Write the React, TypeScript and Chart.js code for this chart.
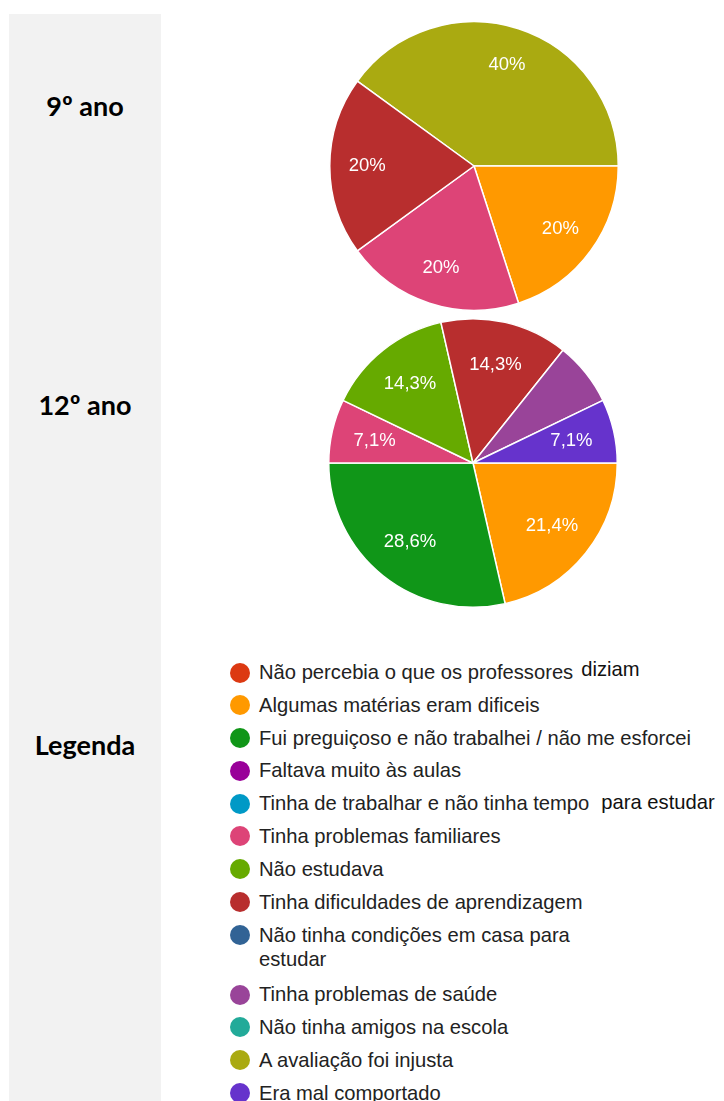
import React, { useEffect, useRef } from "react";
import { Chart, registerables } from "chart.js";

Chart.register(...registerables);

// ---------- data ----------
const legendLabels = [
  "Não percebia o que os professores diziam",
  "Algumas matérias eram dificeis",
  "Fui preguiçoso e não trabalhei / não me esforcei",
  "Faltava muito às aulas",
  "Tinha de trabalhar e não tinha tempo para estudar",
  "Tinha problemas familiares",
  "Não estudava",
  "Tinha dificuldades de aprendizagem",
  "Não tinha condições em casa para estudar",
  "Tinha problemas de saúde",
  "Não tinha amigos na escola",
  "A avaliação foi injusta",
  "Era mal comportado",
];

const legendColors = [
  "#DC3912",
  "#FF9900",
  "#109618",
  "#990099",
  "#0099C6",
  "#DD4477",
  "#66AA00",
  "#B82E2E",
  "#316395",
  "#994499",
  "#22AA99",
  "#AAAA11",
  "#6633CC",
];

const ano9Categories = [
  "A avaliação foi injusta",
  "Algumas matérias eram dificeis",
  "Tinha problemas familiares",
  "Tinha dificuldades de aprendizagem",
];
const ano9Values = [2, 1, 1, 1];

const ano12Categories = [
  "Algumas matérias eram dificeis",
  "Fui preguiçoso e não trabalhei / não me esforcei",
  "Tinha problemas familiares",
  "Não estudava",
  "Tinha dificuldades de aprendizagem",
  "Tinha problemas de saúde",
  "Era mal comportado",
];
const ano12Values = [3, 4, 1, 2, 2, 1, 1];
const ano12UnlabelledSlices = ["Tinha problemas de saúde"];

const sectionTitles = ["9º ano", "12º ano", "Legenda"];

// ---------- helpers ----------
function formatPercent(v: number, total: number): string {
  const p = Number(((v / total) * 100).toFixed(1));
  return String(p).replace(".", ",") + "%";
}

function colorOf(cat: string): string {
  const i = legendLabels.indexOf(cat);
  return i >= 0 ? legendColors[i] : "#999";
}

type PieProps = {
  categories: string[];
  values: number[];
  rotation: number;
  labelFactor: number;
  hidden: string[];
  left: number;
  top: number;
  size: number;
};

function Pie({ categories, values, rotation, labelFactor, hidden, left, top, size }: PieProps) {
  const ref = useRef<HTMLCanvasElement | null>(null);
  useEffect(() => {
    if (!ref.current) return;
    const total = values.reduce((a, b) => a + b, 0);
    const labelPlugin = {
      id: "sliceLabels",
      afterDatasetsDraw(chart: any) {
        const ctx = chart.ctx;
        const meta = chart.getDatasetMeta(0);
        ctx.save();
        ctx.fillStyle = "#ffffff";
        ctx.font = '18.5px "Liberation Sans", Arial, sans-serif';
        ctx.textAlign = "center";
        ctx.textBaseline = "middle";
        meta.data.forEach((arc: any, i: number) => {
          if (hidden.includes(categories[i])) return;
          const { x, y, startAngle, endAngle, outerRadius } = arc.getProps(
            ["x", "y", "startAngle", "endAngle", "outerRadius"],
            true
          );
          const mid = (startAngle + endAngle) / 2;
          const r = outerRadius * labelFactor;
          ctx.fillText(formatPercent(values[i], total), x + Math.cos(mid) * r, y + Math.sin(mid) * r);
        });
        ctx.restore();
      },
    };
    const chart = new Chart(ref.current, {
      type: "pie",
      data: {
        labels: categories,
        datasets: [
          {
            data: values,
            backgroundColor: categories.map(colorOf),
            borderColor: "#ffffff",
            borderWidth: 1.5,
            hoverOffset: 0,
            offset: 0,
          },
        ],
      },
      options: {
        responsive: false,
        animation: false,
        rotation,
        layout: { padding: 0 },
        plugins: { legend: { display: false }, tooltip: { enabled: false } },
        events: [],
      },
      plugins: [labelPlugin],
    });
    return () => chart.destroy();
  }, []);
  return (
    <canvas
      ref={ref}
      width={size}
      height={size}
      style={{ position: "absolute", left, top, width: size, height: size }}
    />
  );
}

const titleStyle = (centerY: number): React.CSSProperties => ({
  position: "absolute",
  left: 9,
  width: 152,
  top: centerY - 20,
  height: 40,
  lineHeight: "40px",
  textAlign: "center",
  fontFamily: "Lato, 'Open Sans', sans-serif",
  fontWeight: 700,
  fontSize: 27,
  color: "#000",
});

function LegendText({ label }: { label: string }) {
  const extraStyle: React.CSSProperties = { position: "relative", color: "#111" };
  if (label === "Não percebia o que os professores diziam") {
    return (
      <span>
        Não percebia o que os professores
        <span style={{ ...extraStyle, marginLeft: 8, top: -3 }}>diziam</span>
      </span>
    );
  }
  if (label === "Tinha de trabalhar e não tinha tempo para estudar") {
    return (
      <span>
        Tinha de trabalhar e não tinha tempo
        <span style={{ ...extraStyle, marginLeft: 12, top: -1 }}>para estudar</span>
      </span>
    );
  }
  if (label === "Não tinha condições em casa para estudar") {
    return (
      <div style={{ whiteSpace: "normal", width: 330, lineHeight: "24px", marginBottom: 2 }}>{label}</div>
    );
  }
  return <span>{label}</span>;
}

export default function App() {
  return (
    <div
      style={{
        position: "absolute",
        left: 0,
        top: 0,
        width: 724,
        height: 1101,
        overflow: "hidden",
        background: "#ffffff",
      }}
    >
      <div style={{ position: "absolute", left: 9, top: 14, width: 152, height: 1087, background: "#f2f2f2" }} />
      <div style={titleStyle(106)}>{sectionTitles[0]}</div>
      <div style={titleStyle(405)}>{sectionTitles[1]}</div>
      <div style={titleStyle(745)}>{sectionTitles[2]}</div>

      <Pie
        categories={ano9Categories}
        values={ano9Values}
        rotation={-54}
        labelFactor={0.74}
        hidden={[]}
        left={329}
        top={21}
        size={290}
      />
      <Pie
        categories={ano12Categories}
        values={ano12Values}
        rotation={90}
        labelFactor={0.7}
        hidden={ano12UnlabelledSlices}
        left={328}
        top={318}
        size={290}
      />

      <div
        style={{
          position: "absolute",
          left: 230,
          top: 661,
          fontFamily: "'Liberation Sans', Arial, sans-serif",
          fontSize: 20.2,
          color: "#222",
        }}
      >
        {legendLabels.map((lab, i) => (
          <div key={lab} style={{ display: "flex", alignItems: "flex-start", height: lab.startsWith("Não tinha condições") ? undefined : 23, marginBottom: 9.8 }}>
            <div
              style={{
                width: 20,
                height: 20,
                borderRadius: "50%",
                background: legendColors[i],
                marginTop: 1.5,
                flex: "none",
              }}
            />
            <div style={{ marginLeft: 9, lineHeight: "23px", whiteSpace: "nowrap" }}>
              <LegendText label={lab} />
            </div>
          </div>
        ))}
      </div>
    </div>
  );
}
